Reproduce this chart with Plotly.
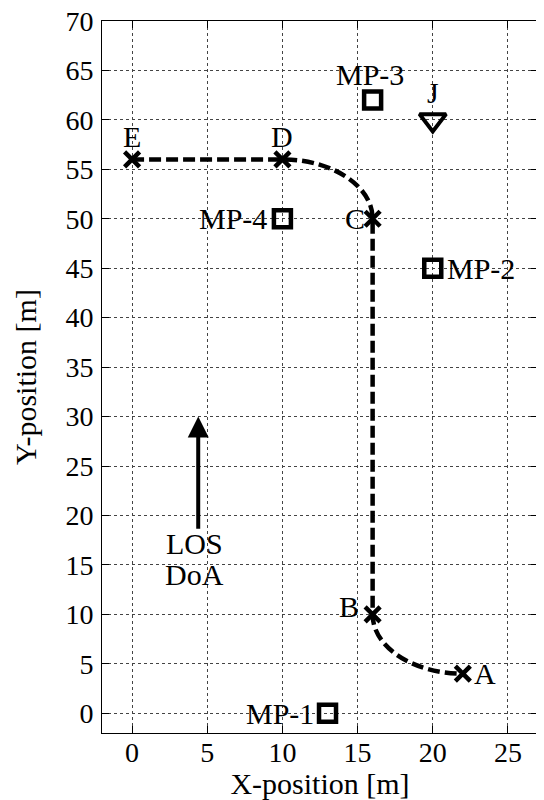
import plotly.graph_objects as go

# ---- data ----
wp_names = ["A", "B", "C", "D", "E"]
wp_x = [22, 16, 16, 10, 0]
wp_y = [4, 10, 50, 56, 56]

mp_names = ["MP-1", "MP-2", "MP-3", "MP-4"]
mp_x = [13, 20, 16, 10]
mp_y = [0, 45, 62, 50]

jam_name = ["J"]
jam_x = [20]
jam_y = [60]

los_x = 4.4
los_y_tail = 18.5
los_y_tip = 30
los_text = ["LOS", "DoA"]

x_ticks = list(range(0, 30, 5))
y_ticks = list(range(0, 75, 5))

FONT = "Liberation Serif"

fig = go.Figure()

# ---- trajectory path (E -> D -> C -> B -> A) with rounded corners ----
A, B, C, D, E = [(x, y) for x, y in zip(wp_x, wp_y)]
k = 0.5523
c1 = (C[0], D[1])  # corner between D and C
c2 = (B[0], A[1])  # corner between B and A
def lerp(p, q, t):
    return (p[0] + (q[0] - p[0]) * t, p[1] + (q[1] - p[1]) * t)
d1a = lerp(D, c1, k); d1b = lerp(C, c1, k)
d2a = lerp(B, c2, k); d2b = lerp(A, c2, k)
path = (f"M {E[0]},{E[1]} L {D[0]},{D[1]} "
        f"C {d1a[0]},{d1a[1]} {d1b[0]},{d1b[1]} {C[0]},{C[1]} "
        f"L {B[0]},{B[1]} "
        f"C {d2a[0]},{d2a[1]} {d2b[0]},{d2b[1]} {A[0]},{A[1]}")
fig.add_shape(type="path", path=path, xref="x", yref="y",
              line=dict(color="black", width=4.5, dash="12px,5px"), layer="above")

# ---- markers ----
fig.add_trace(go.Scatter(x=wp_x, y=wp_y, mode="markers",
                         marker=dict(symbol="x-thin", size=15, color="black",
                                     line=dict(color="black", width=4.5)),
                         showlegend=False, hoverinfo="skip"))
fig.add_trace(go.Scatter(x=mp_x, y=mp_y, mode="markers",
                         marker=dict(symbol="square-open", size=17, color="black",
                                     line=dict(color="black", width=4.5)),
                         showlegend=False, hoverinfo="skip"))
fig.add_trace(go.Scatter(x=jam_x, y=jam_y, mode="markers",
                         marker=dict(symbol="triangle-down-open", size=23, color="black",
                                     line=dict(color="black", width=4)),
                         showlegend=False, hoverinfo="skip"))

# ---- LOS arrow ----
fig.add_annotation(x=los_x, y=los_y_tip, ax=los_x, ay=los_y_tail,
                   xref="x", yref="y", axref="x", ayref="y",
                   text="", showarrow=True, arrowhead=2, arrowsize=1.05,
                   arrowwidth=4, arrowcolor="black", standoff=0)

tf = dict(family=FONT, size=30, color="black")
def lab(text, x, y, xanchor="center", yanchor="middle", xshift=0, yshift=0):
    fig.add_annotation(x=x, y=y, xref="x", yref="y", text=text, showarrow=False,
                       font=tf, xanchor=xanchor, yanchor=yanchor,
                       xshift=xshift, yshift=yshift)

lab(los_text[0], 4.15, 17.2)
lab(los_text[1], 4.15, 14.0)

# waypoint labels
lab(wp_names[0], wp_x[0], wp_y[0], xanchor="left", xshift=9)
lab(wp_names[1], wp_x[1], wp_y[1], xanchor="right", xshift=-12, yshift=8)
lab(wp_names[2], wp_x[2], wp_y[2], xanchor="right", xshift=-6)
lab(wp_names[3], wp_x[3], wp_y[3], yanchor="bottom", yshift=4)
lab(wp_names[4], wp_x[4], wp_y[4], yanchor="bottom", yshift=4)

# MP labels
lab(mp_names[0], mp_x[0], mp_y[0], xanchor="right", xshift=-12)
lab(mp_names[1], mp_x[1], mp_y[1], xanchor="left", xshift=12)
lab(mp_names[2], mp_x[2], mp_y[2], xanchor="center", yshift=26, xshift=-3)
lab(mp_names[3], mp_x[3], mp_y[3], xanchor="right", xshift=-13)

# jammer label
lab(jam_name[0], jam_x[0], jam_y[0], yanchor="bottom", yshift=9)

axis_common = dict(showline=True, linecolor="black", linewidth=1, mirror="ticks",
                   ticks="inside", ticklen=7, tickcolor="black", tickwidth=1,
                   showgrid=True, gridcolor="#444", gridwidth=1, griddash="dot",
                   zeroline=False, automargin=False, ticklabeloverflow="allow",
                   tickfont=dict(family=FONT, size=28, color="black"))

fig.update_xaxes(range=[-2, 27], tickvals=x_ticks, ticklabelstandoff=-6,
                 title=dict(text="X-position [m]", font=dict(family=FONT, size=30, color="black"),
                            standoff=6),
                 **axis_common)
fig.update_yaxes(range=[-2, 70], tickvals=y_ticks, ticklabelstandoff=2,
                 title=dict(text="Y-position [m]", font=dict(family=FONT, size=30, color="black"),
                            standoff=19),
                 **axis_common)

# page body has an 8px margin; size and margins account for it
fig.update_layout(width=536, height=792, margin=dict(l=94, r=6, t=13, b=67),
                  plot_bgcolor="white", paper_bgcolor="white", showlegend=False)

fig.write_html("out.html")
